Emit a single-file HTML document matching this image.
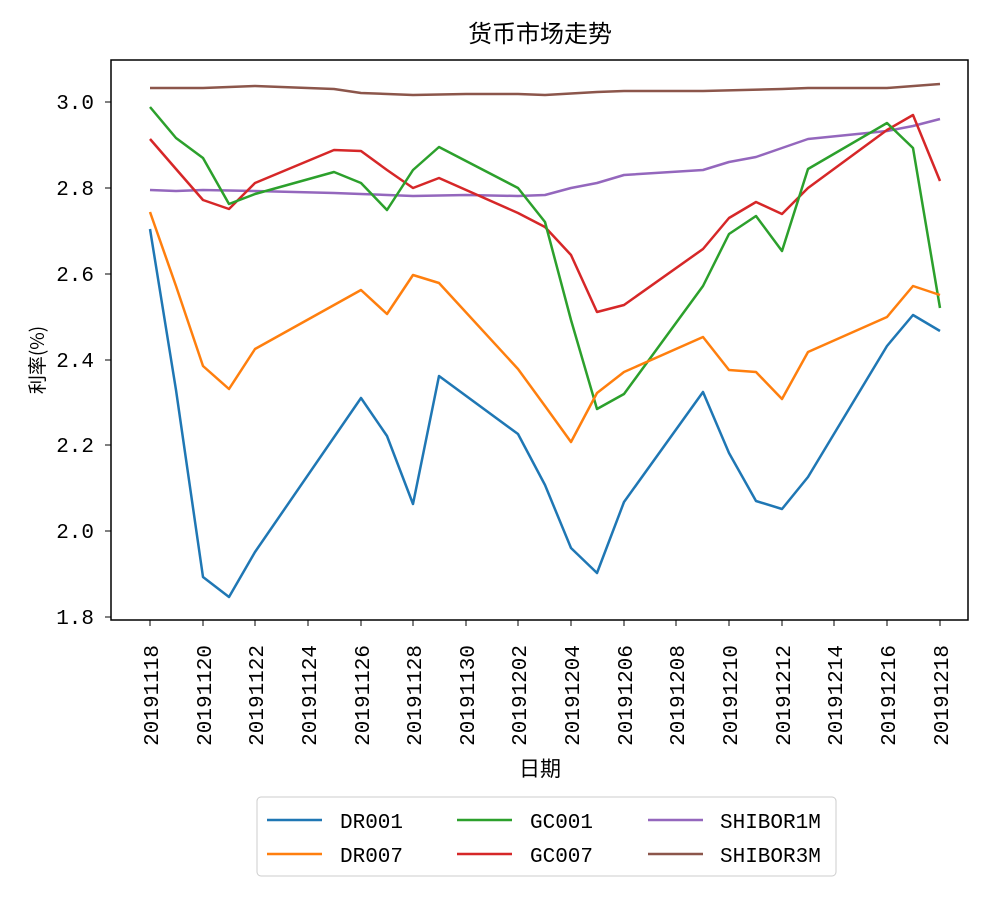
<!DOCTYPE html>
<html><head><meta charset="utf-8"><style>
body{margin:0;background:#fff;}
svg text{font-family:"Liberation Mono","Noto Sans CJK SC",monospace;fill:#000;}
</style></head><body>
<svg width="1000" height="896" xmlns="http://www.w3.org/2000/svg">
<rect width="1000" height="896" fill="#fff"/>
<text x="540" y="42" font-size="24" text-anchor="middle" style="font-family:'Noto Sans CJK SC',sans-serif">货币市场走势</text>
<rect x="111" y="60" width="857" height="560" fill="none" stroke="#000" stroke-width="1.5"/>
<g font-size="21" text-anchor="end">
<line x1="105" y1="102" x2="111" y2="102" stroke="#000"/><text x="94" y="109">3.0</text>
<line x1="105" y1="188" x2="111" y2="188" stroke="#000"/><text x="94" y="195">2.8</text>
<line x1="105" y1="274" x2="111" y2="274" stroke="#000"/><text x="94" y="281">2.6</text>
<line x1="105" y1="360" x2="111" y2="360" stroke="#000"/><text x="94" y="367">2.4</text>
<line x1="105" y1="445" x2="111" y2="445" stroke="#000"/><text x="94" y="452">2.2</text>
<line x1="105" y1="531" x2="111" y2="531" stroke="#000"/><text x="94" y="538">2.0</text>
<line x1="105" y1="617" x2="111" y2="617" stroke="#000"/><text x="94" y="624">1.8</text>
</g>
<text transform="translate(44,360) rotate(-90)" font-size="19" text-anchor="middle" style="font-family:'Noto Sans CJK SC',sans-serif">利率(%)</text>
<g font-size="21" text-anchor="end">
<g transform="translate(150,620)"><line y2="6" stroke="#000"/><text transform="translate(8,25) rotate(-90)">20191118</text></g>
<g transform="translate(203,620)"><line y2="6" stroke="#000"/><text transform="translate(8,25) rotate(-90)">20191120</text></g>
<g transform="translate(255,620)"><line y2="6" stroke="#000"/><text transform="translate(8,25) rotate(-90)">20191122</text></g>
<g transform="translate(308,620)"><line y2="6" stroke="#000"/><text transform="translate(8,25) rotate(-90)">20191124</text></g>
<g transform="translate(361,620)"><line y2="6" stroke="#000"/><text transform="translate(8,25) rotate(-90)">20191126</text></g>
<g transform="translate(413,620)"><line y2="6" stroke="#000"/><text transform="translate(8,25) rotate(-90)">20191128</text></g>
<g transform="translate(466,620)"><line y2="6" stroke="#000"/><text transform="translate(8,25) rotate(-90)">20191130</text></g>
<g transform="translate(518,620)"><line y2="6" stroke="#000"/><text transform="translate(8,25) rotate(-90)">20191202</text></g>
<g transform="translate(571,620)"><line y2="6" stroke="#000"/><text transform="translate(8,25) rotate(-90)">20191204</text></g>
<g transform="translate(624,620)"><line y2="6" stroke="#000"/><text transform="translate(8,25) rotate(-90)">20191206</text></g>
<g transform="translate(676,620)"><line y2="6" stroke="#000"/><text transform="translate(8,25) rotate(-90)">20191208</text></g>
<g transform="translate(729,620)"><line y2="6" stroke="#000"/><text transform="translate(8,25) rotate(-90)">20191210</text></g>
<g transform="translate(782,620)"><line y2="6" stroke="#000"/><text transform="translate(8,25) rotate(-90)">20191212</text></g>
<g transform="translate(834,620)"><line y2="6" stroke="#000"/><text transform="translate(8,25) rotate(-90)">20191214</text></g>
<g transform="translate(887,620)"><line y2="6" stroke="#000"/><text transform="translate(8,25) rotate(-90)">20191216</text></g>
<g transform="translate(940,620)"><line y2="6" stroke="#000"/><text transform="translate(8,25) rotate(-90)">20191218</text></g>
</g>
<text x="540" y="776" font-size="21" text-anchor="middle" style="font-family:'Noto Sans CJK SC',sans-serif">日期</text>
<g fill="none" stroke-width="2.5" stroke-linejoin="round">
<polyline stroke="#8c564b" points="150,88 203,88 255,86 334,89 361,93 413,95 466,94 518,94 545,95 597,92 624,91 703,91 782,89 808,88 887,88 940,84"/>
<polyline stroke="#9467bd" points="150,190 176,191 203,190 255,191 334,193 361,194 413,196 466,195 518,196 545,195 571,188 597,183 624,175 703,170 729,162 756,157 782,148 808,139 887,131 913,126 940,119"/>
<polyline stroke="#d62728" points="150,139 176,169 203,200 229,209 255,183 334,150 361,151 387,170 413,188 439,178 518,213 545,227 571,255 597,312 624,305 703,249 729,218 756,202 782,214 808,188 887,130 913,115 940,181"/>
<polyline stroke="#2ca02c" points="150,107 176,138 203,158 229,204 255,194 334,172 361,183 387,210 413,170 439,147 518,188 545,222 571,320 597,409 624,394 703,286 729,234 756,216 782,251 808,169 887,123 913,148 940,308"/>
<polyline stroke="#ff7f0e" points="150,212 176,286 203,366 229,389 255,349 361,290 387,314 413,275 439,283 518,369 545,406 571,442 597,393 624,372 703,337 729,370 756,372 782,399 808,352 887,317 913,286 940,295"/>
<polyline stroke="#1f77b4" points="150,229 176,390 203,577 229,597 255,552 361,398 387,436 413,504 439,376 518,434 545,485 571,548 597,573 624,502 703,392 729,453 756,501 782,509 808,477 887,346 913,315 940,331"/>
</g>
<rect x="257" y="797" width="579" height="79" rx="4" fill="#fff" stroke="#ccc"/>
<g stroke-width="2.5">
<line x1="267" y1="820" x2="322" y2="820" stroke="#1f77b4"/>
<line x1="267" y1="854" x2="322" y2="854" stroke="#ff7f0e"/>
<line x1="457" y1="820" x2="512" y2="820" stroke="#2ca02c"/>
<line x1="457" y1="854" x2="512" y2="854" stroke="#d62728"/>
<line x1="648" y1="820" x2="703" y2="820" stroke="#9467bd"/>
<line x1="648" y1="854" x2="703" y2="854" stroke="#8c564b"/>
</g>
<g font-size="21">
<text x="340" y="828">DR001</text>
<text x="340" y="862">DR007</text>
<text x="530" y="828">GC001</text>
<text x="530" y="862">GC007</text>
<text x="720" y="828">SHIBOR1M</text>
<text x="720" y="862">SHIBOR3M</text>
</g>
</svg>
</body></html>
